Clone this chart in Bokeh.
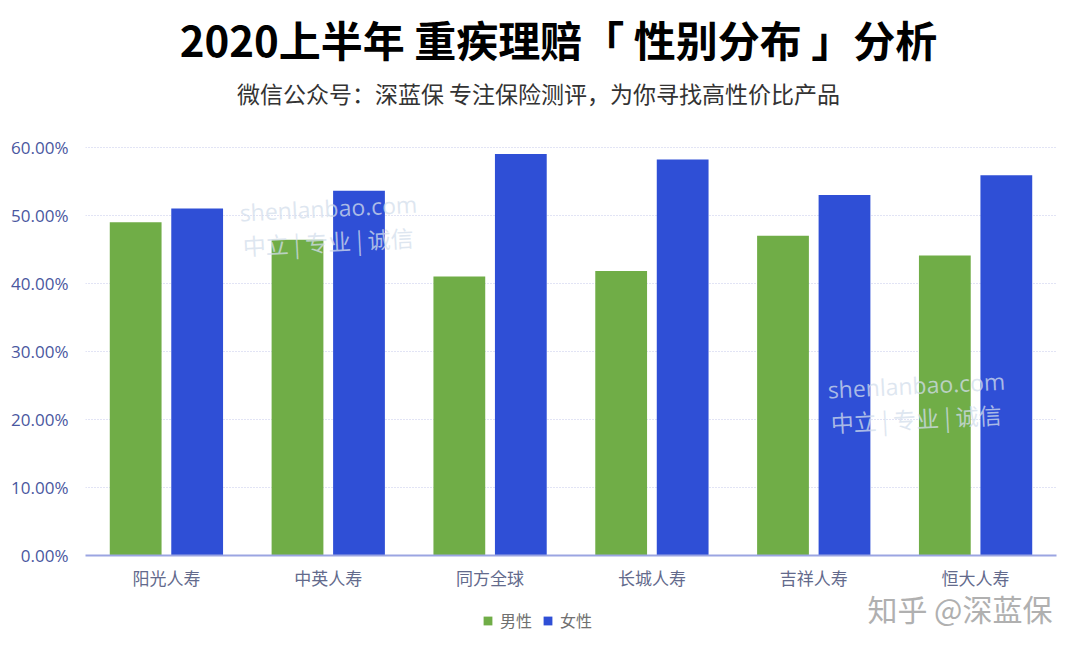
from bokeh.plotting import figure
from bokeh.models import (ColumnDataSource, FactorRange, Range1d, Label, Legend, LegendItem,
                          PrintfTickFormatter, FixedTicker)
from bokeh.layouts import column
from bokeh.transform import dodge
from bokeh.embed import file_html
from bokeh.resources import INLINE

# ---- data ----
companies = ["阳光人寿", "中英人寿", "同方全球", "长城人寿", "吉祥人寿", "恒大人寿"]
male = [49.0, 46.4, 41.0, 41.8, 47.0, 44.1]
female = [51.0, 53.6, 59.0, 58.2, 53.0, 55.9]
series_names = ["男性", "女性"]
y_ticks = [0, 10, 20, 30, 40, 50, 60]

title_text = "2020上半年 重疾理赔「 性别分布 」分析"
subtitle_text = "微信公众号：深蓝保 专注保险测评，为你寻找高性价比产品"
watermark_text = "知乎 @深蓝保"

GREEN = "#70AD47"
BLUE = "#2F4FD6"
CJK = "Noto Sans CJK SC"
W = 1080
LEFT = 85   # frame left edge (frames are aligned in the column)

source = ColumnDataSource(dict(cat=companies, male=male, female=female))
x_range = FactorRange(*companies, range_padding=0)


def blank(height, y_start=0, transparent=False, **kw):
    f = figure(width=W, height=height, x_range=x_range, y_range=Range1d(y_start, y_start + height),
               x_axis_type=None, y_axis_type=None, output_backend="svg", toolbar_location=None,
               min_border=0, **kw)
    f.outline_line_color = None
    if transparent:
        f.background_fill_alpha = 0
        f.border_fill_alpha = 0
    else:
        f.background_fill_color = "white"
        f.border_fill_color = "white"
    return f


# ---- top: titles ----
top = blank(120)
top.add_layout(Label(x=558 - LEFT, y=82, x_units="screen", y_units="screen", text=title_text,
                     text_font=CJK, text_font_size="42px", text_font_style="bold",
                     text_color="#000000", text_align="center", text_baseline="middle"))
top.add_layout(Label(x=538 - LEFT, y=28, x_units="screen", y_units="screen", text=subtitle_text,
                     text_font=CJK, text_font_size="23px", text_color="#333333",
                     text_align="center", text_baseline="middle"))

# ---- main chart ----
p = figure(width=W, height=473, x_range=x_range,
           y_range=Range1d(0, 61), output_backend="svg", toolbar_location=None,
           min_border_left=LEFT, min_border_right=24, min_border_top=20, min_border_bottom=38)
p.outline_line_color = None
p.background_fill_color = "white"
p.border_fill_color = "white"

r_m = p.vbar(x=dodge("cat", -0.19, range=x_range), top="male", width=0.32, source=source,
             fill_color=GREEN, line_color=None)
r_f = p.vbar(x=dodge("cat", 0.19, range=x_range), top="female", width=0.32, source=source,
             fill_color=BLUE, line_color=None)

p.yaxis.ticker = FixedTicker(ticks=y_ticks)
p.yaxis.formatter = PrintfTickFormatter(format="%.2f%%")
p.yaxis.axis_line_color = None
p.yaxis.major_tick_line_color = None
p.yaxis.minor_tick_line_color = None
p.yaxis.major_label_text_font = "Open Sans"
p.yaxis.major_label_text_font_size = "17px"
p.yaxis.major_label_text_color = "#4a57a0"
p.yaxis.major_label_standoff = 11

p.xaxis.axis_line_color = "#9ba5e2"
p.xaxis.axis_line_width = 2
p.xaxis.major_tick_line_color = None
p.xaxis.minor_tick_line_color = None
p.xaxis.major_label_text_font = CJK
p.xaxis.major_label_text_font_size = "17px"
p.xaxis.major_label_text_color = "#636a8c"
p.xaxis.major_label_standoff = 3

p.xgrid.grid_line_color = None
p.ygrid.grid_line_color = "#c4c8ea"
p.ygrid.grid_line_dash = "1 2"
p.ygrid.grid_line_width = 1

for (xx, yy) in [(155, 327), (743, 150)]:
    p.add_layout(Label(x=xx, y=yy, x_units="screen", y_units="screen", text="shenlanbao.com",
                       text_font="Open Sans", text_font_size="23px", text_color="#d3deec",
                       text_alpha=0.75, angle=0.05))
    p.add_layout(Label(x=xx + 3, y=yy - 34, x_units="screen", y_units="screen",
                       text="中立 | 专业 | 诚信",
                       text_font=CJK, text_font_size="23px", text_color="#d3deec",
                       text_alpha=0.75, angle=0.05))

# ---- bottom: legend + watermark (transparent, slightly overlapping the chart) ----
# the y range is far above the data so the series' bars are not visible here;
# they only serve as legend proxies
bot = blank(72, y_start=1000, transparent=True, margin=(-12, 0, 0, 0))
lm = bot.vbar(x=dodge("cat", -0.19, range=x_range), top="male", width=0.32, source=source,
              fill_color=GREEN, line_color=None)
lf = bot.vbar(x=dodge("cat", 0.19, range=x_range), top="female", width=0.32, source=source,
              fill_color=BLUE, line_color=None)
legend = Legend(items=[LegendItem(label=series_names[0], renderers=[lm], index=0),
                       LegendItem(label=series_names[1], renderers=[lf], index=0)],
                location=(482 - LEFT, 21), orientation="horizontal",
                glyph_width=11, glyph_height=11, label_standoff=7, spacing=10,
                label_height=20, padding=0, margin=0, border_line_color=None,
                background_fill_alpha=0,
                label_text_font=CJK, label_text_font_size="16px", label_text_color="#707070")
bot.add_layout(legend, "center")
bot.add_layout(Label(x=1052 - LEFT, y=46, x_units="screen", y_units="screen", text=watermark_text,
                     text_font=CJK, text_font_size="30px", text_color="#b0b0b0",
                     text_align="right", text_baseline="middle"))

layout = column(top, p, bot, spacing=0)
open("out.html", "w").write(file_html(layout, INLINE))
